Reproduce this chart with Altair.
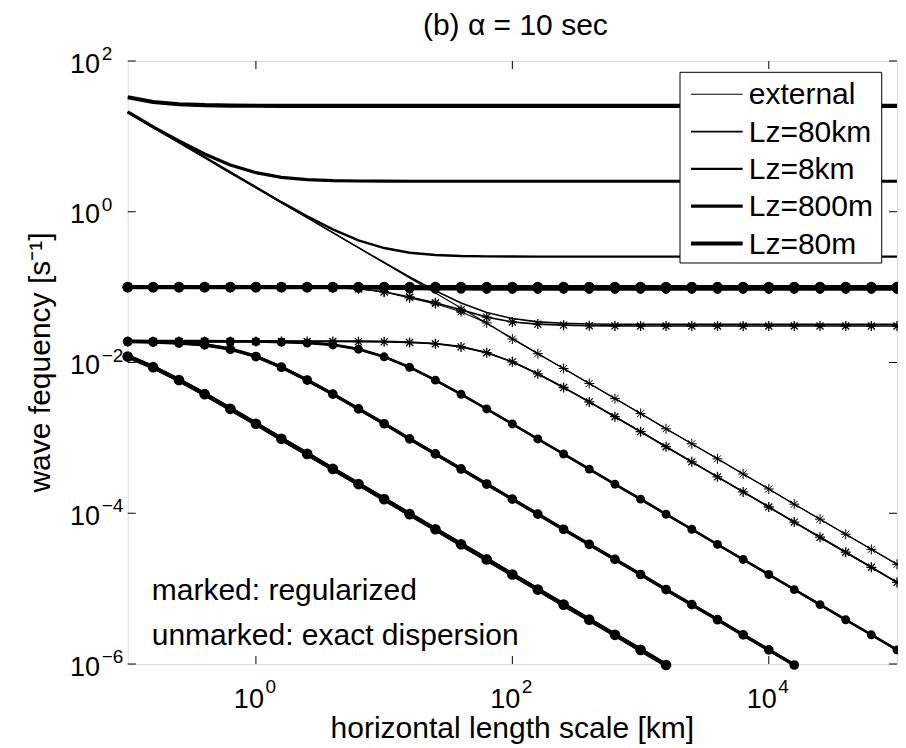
import altair as alt
import pandas as pd

# horizontal length scale [km] (sample points, 5 per decade)
X_KM = [0.1, 0.158, 0.251, 0.398, 0.631, 1.0, 1.58, 2.51, 3.98, 6.31,
        10, 15.8, 25.1, 39.8, 63.1, 100, 158, 251, 398, 631,
        1000, 1580, 2510, 3980, 6310, 10000, 15800, 25100, 39800, 63100, 100000]

# exact dispersion (unmarked)
EXT_EXACT = [21.0, 13.2, 8.35, 5.27, 3.32, 2.10, 1.32, 0.835, 0.527, 0.332,
             0.210, 0.132, 0.0835, 0.0527, 0.0332, 0.0210, 0.0132, 0.00835, 0.00527, 0.00332,
             0.00210, 0.00132, 8.35e-4, 5.27e-4, 3.32e-4, 2.10e-4, 1.32e-4, 8.35e-5, 5.27e-5, 3.32e-5, 2.10e-5]
AC80KM_EXACT = [21.0, 13.2, 8.35, 5.27, 3.32, 2.10, 1.32, 0.836, 0.528, 0.334,
                0.212, 0.136, 0.0894, 0.0617, 0.0461, 0.0383, 0.0346, 0.0331, 0.0324, 0.0322,
                0.0321, 0.032, 0.032, 0.032, 0.032, 0.032, 0.032, 0.032, 0.032, 0.032, 0.032]
AC8KM_EXACT = [21.0, 13.2, 8.35, 5.28, 3.33, 2.11, 1.34, 0.873, 0.585, 0.418,
               0.330, 0.286, 0.267, 0.259, 0.256, 0.255, 0.254, 0.254, 0.254, 0.254,
               0.254, 0.254, 0.254, 0.254, 0.254, 0.254, 0.254, 0.254, 0.254, 0.254, 0.254]
AC800M_EXACT = [21.2, 13.4, 8.73, 5.85, 4.18, 3.30, 2.86, 2.67, 2.59, 2.56,
                2.55, 2.54, 2.54, 2.54, 2.54, 2.54, 2.54, 2.54, 2.54, 2.54,
                2.54, 2.54, 2.54, 2.54, 2.54, 2.54, 2.54, 2.54, 2.54, 2.54, 2.54]
AC80M_EXACT = [33.0, 28.6, 26.7, 25.9, 25.6, 25.5, 25.4, 25.4, 25.4, 25.4,
               25.4, 25.4, 25.4, 25.4, 25.4, 25.4, 25.4, 25.4, 25.4, 25.4,
               25.4, 25.4, 25.4, 25.4, 25.4, 25.4, 25.4, 25.4, 25.4, 25.4, 25.4]
GR80KM_EXACT = [0.0193, 0.0193, 0.0193, 0.0193, 0.0193, 0.0193, 0.0193, 0.0193, 0.0193, 0.0192,
                0.0191, 0.0187, 0.0179, 0.0163, 0.0136, 0.0102, 0.00709, 0.00467, 0.00300, 0.00191,
                0.00121, 7.63e-4, 4.81e-4, 3.04e-4, 1.92e-4, 1.21e-4, 7.63e-5, 4.81e-5, 3.04e-5, 1.92e-5, 1.21e-5]
GR8KM_EXACT = [0.0193, 0.0193, 0.0193, 0.0193, 0.0192, 0.0192, 0.0189, 0.0184, 0.0173, 0.0151,
               0.0120, 0.00867, 0.00584, 0.00379, 0.00242, 0.00153, 9.68e-4, 6.11e-4, 3.85e-4, 2.43e-4,
               1.54e-4, 9.71e-5, 6.13e-5, 3.86e-5, 2.44e-5, 1.54e-5, 9.71e-6, 6.13e-6, 3.86e-6, 2.44e-6, 1.54e-6]
GR800M_EXACT = [0.0192, 0.0189, 0.0184, 0.0173, 0.0152, 0.0121, 0.00869, 0.00586, 0.00380, 0.00243,
                0.00154, 9.71e-4, 6.13e-4, 3.87e-4, 2.44e-4, 1.54e-4, 9.72e-5, 6.13e-5, 3.87e-5, 2.44e-5,
                1.54e-5, 9.72e-6, 6.13e-6, 3.87e-6, 2.44e-6, 1.54e-6, 9.7e-7, None, None, None, None]
GR80M_EXACT = [0.0121, 0.00869, 0.00586, 0.00380, 0.00243, 0.00154, 9.71e-4, 6.13e-4, 3.87e-4, 2.44e-4,
               1.54e-4, 9.72e-5, 6.13e-5, 3.87e-5, 2.44e-5, 1.54e-5, 9.72e-6, 6.13e-6, 3.87e-6, 2.44e-6,
               1.54e-6, 9.7e-7, None, None, None, None, None, None, None, None, None]

# regularized (marked)
EXT_REG = [0.1, 0.1, 0.1, 0.1, 0.1, 0.1, 0.1, 0.0993, 0.0983, 0.0950,
           0.086, 0.072, 0.060, 0.047, 0.0335, 0.0205, 0.0131, 0.00832, 0.00527, 0.00332,
           0.00210, 0.00132, 8.35e-4, 5.27e-4, 3.32e-4, 2.10e-4, 1.32e-4, 8.35e-5, 5.27e-5, 3.32e-5, 2.10e-5]
AC80KM_REG = [0.1, 0.1, 0.1, 0.1, 0.1, 0.1, 0.1, 0.0993, 0.0983, 0.0952,
              0.087, 0.074, 0.062, 0.050, 0.040, 0.0345, 0.0323, 0.0313, 0.0308, 0.0306,
              0.0305, 0.0305, 0.0305, 0.0305, 0.0305, 0.0305, 0.0305, 0.0305, 0.0305, 0.0305, 0.0305]
AC8KM_REG = [0.0999, 0.0999, 0.0999, 0.0999, 0.0999, 0.0999, 0.0999, 0.0993, 0.0986, 0.0973,
             0.0957, 0.0944, 0.0937, 0.0933, 0.0931, 0.0931, 0.0931, 0.0931, 0.0931, 0.0931,
             0.0931, 0.0931, 0.0931, 0.0931, 0.0931, 0.0931, 0.0931, 0.0931, 0.0931, 0.0931, 0.0931]
AC800M_REG = [0.0999] * 31
AC80M_REG = [0.1] * 31
GR80KM_REG = [0.019, 0.019, 0.019, 0.019, 0.019, 0.019, 0.019, 0.019, 0.019, 0.0189,
              0.0188, 0.0184, 0.0177, 0.0161, 0.0135, 0.0102, 0.00707, 0.00466, 0.00300, 0.00191,
              0.00121, 7.63e-4, 4.81e-4, 3.04e-4, 1.92e-4, 1.21e-4, 7.63e-5, 4.81e-5, 3.04e-5, 1.92e-5, 1.21e-5]
GR8KM_REG = [0.019, 0.019, 0.019, 0.019, 0.019, 0.0189, 0.0186, 0.0181, 0.0171, 0.0150,
             0.0119, 0.00864, 0.00583, 0.00379, 0.00242, 0.00153, 9.68e-4, 6.11e-4, 3.85e-4, 2.43e-4,
             1.54e-4, 9.71e-5, 6.13e-5, 3.86e-5, 2.44e-5, 1.54e-5, 9.71e-6, 6.13e-6, 3.86e-6, 2.44e-6, 1.54e-6]
GR800M_REG = [0.0189, 0.0186, 0.0181, 0.0171, 0.0150, 0.0120, 0.00866, 0.00585, 0.00380, 0.00243,
              0.00154, 9.71e-4, 6.13e-4, 3.87e-4, 2.44e-4, 1.54e-4, 9.72e-5, 6.13e-5, 3.87e-5, 2.44e-5,
              1.54e-5, 9.72e-6, 6.13e-6, 3.87e-6, 2.44e-6, 1.54e-6, 9.7e-7, None, None, None, None]
GR80M_REG = [0.0120, 0.00866, 0.00585, 0.00380, 0.00243, 0.00154, 9.71e-4, 6.13e-4, 3.87e-4, 2.44e-4,
             1.54e-4, 9.72e-5, 6.13e-5, 3.87e-5, 2.44e-5, 1.54e-5, 9.72e-6, 6.13e-6, 3.87e-6, 2.44e-6,
             1.54e-6, 9.7e-7, None, None, None, None, None, None, None, None, None]

GROUPS = ["external", "Lz=80km", "Lz=8km", "Lz=800m", "Lz=80m"]
WIDTHS = [1.1, 1.6, 2.4, 3.2, 4.2]

SERIES = [
    ("ext exact", "external", "none", EXT_EXACT),
    ("ac80km exact", "Lz=80km", "none", AC80KM_EXACT),
    ("ac8km exact", "Lz=8km", "none", AC8KM_EXACT),
    ("ac800m exact", "Lz=800m", "none", AC800M_EXACT),
    ("ac80m exact", "Lz=80m", "none", AC80M_EXACT),
    ("gr80km exact", "Lz=80km", "none", GR80KM_EXACT),
    ("gr8km exact", "Lz=8km", "none", GR8KM_EXACT),
    ("gr800m exact", "Lz=800m", "none", GR800M_EXACT),
    ("gr80m exact", "Lz=80m", "none", GR80M_EXACT),
    ("ext reg", "external", "star", EXT_REG),
    ("ac80km reg", "Lz=80km", "star", AC80KM_REG),
    ("ac8km reg", "Lz=8km", "dot", AC8KM_REG),
    ("ac800m reg", "Lz=800m", "dot", AC800M_REG),
    ("ac80m reg", "Lz=80m", "dot", AC80M_REG),
    ("gr80km reg", "Lz=80km", "star", GR80KM_REG),
    ("gr8km reg", "Lz=8km", "dot", GR8KM_REG),
    ("gr800m reg", "Lz=800m", "dot", GR800M_REG),
    ("gr80m reg", "Lz=80m", "dot", GR80M_REG),
]

X_TICKS = [1, 100, 10000]
X_EXP = ["0", "2", "4"]
Y_TICKS = [100, 1, 0.01, 1e-4, 1e-6]
Y_EXP = ["2", "0", "\u22122", "\u22124", "\u22126"]

NOTE_TEXT = ["marked: regularized", "unmarked: exact dispersion"]
NOTE_X = [0.154, 0.154]
NOTE_Y = [7.1e-6, 1.8e-6]

TITLE = "(b) \u03b1 = 10 sec"
X_TITLE = "horizontal length scale [km]"
Y_TITLE = "wave fequency [s\u207b\u00b9]"

FONT = "Liberation Sans"
W, H = 769.3, 603

rows = []
for name, grp, mk, vals in SERIES:
    gw = WIDTHS[GROUPS.index(grp)]
    for i, (x, y) in enumerate(zip(X_KM, vals)):
        if y is None:
            continue
        rows.append({"x": x, "y": y, "series": name, "group": grp, "marker": mk,
                     "order": i, "lw": gw, "mw": max(1.0, gw * 0.8),
                     "ds": (6.5 + gw) ** 2})
df = pd.DataFrame(rows)

xscale = alt.Scale(type="log", domain=[0.1, 1e5], nice=False)
yscale = alt.Scale(type="log", domain=[1e-6, 1e2], nice=False)
XE = alt.X("x:Q", scale=xscale, axis=None)
YE = alt.Y("y:Q", scale=yscale, axis=None)

lines = alt.Chart(df).mark_line(color="black").encode(
    x=XE, y=YE, detail="series:N", order="order:Q",
    strokeWidth=alt.StrokeWidth("lw:Q", scale=None),
)

dots = alt.Chart(df).transform_filter(alt.datum.marker == "dot").mark_point(
    shape="circle", filled=True, color="black", opacity=1
).encode(x=XE, y=YE, size=alt.Size("ds:Q", scale=None))

STAR = "M-1,0L1,0M0,-1L0,1M-0.7,-0.7L0.7,0.7M-0.7,0.7L0.7,-0.7"
stars = alt.Chart(df).transform_filter(alt.datum.marker == "star").mark_point(
    shape=STAR, filled=False, color="black", size=100, opacity=1
).encode(x=XE, y=YE, strokeWidth=alt.StrokeWidth("mw:Q", scale=None))

xt = pd.DataFrame({"tick": X_TICKS, "exp": X_EXP})
yt = pd.DataFrame({"tick": Y_TICKS, "exp": Y_EXP})
XT = alt.X("tick:Q", scale=xscale, axis=None)
YT = alt.Y("tick:Q", scale=yscale, axis=None)

xtick_b = alt.Chart(xt).mark_rule(color="black", strokeWidth=1).encode(
    x=XT, y=alt.value(H), y2=alt.value(H - 8))
xtick_t = alt.Chart(xt).mark_rule(color="black", strokeWidth=1).encode(
    x=XT, y=alt.value(0), y2=alt.value(8))
ytick_l = alt.Chart(yt).mark_rule(color="black", strokeWidth=1).encode(
    y=YT, x=alt.value(0), x2=alt.value(8))
ytick_r = alt.Chart(yt).mark_rule(color="black", strokeWidth=1).encode(
    y=YT, x=alt.value(W), x2=alt.value(W - 8))

xlab = alt.Chart(xt).mark_text(font=FONT, fontSize=27, align="right", baseline="alphabetic",
                               dx=8, color="black").encode(
    x=XT, y=alt.value(H + 44), text=alt.value("10"))
xexp = alt.Chart(xt).mark_text(font=FONT, fontSize=19, align="left", baseline="alphabetic",
                               dx=9.5, color="black").encode(
    x=XT, y=alt.value(H + 29), text="exp:N")
ylab = alt.Chart(yt).mark_text(font=FONT, fontSize=27, align="right", baseline="alphabetic",
                               dy=11.5, color="black").encode(
    y=YT, x=alt.value(-27.7), text=alt.value("10"))
yexp = alt.Chart(yt).mark_text(font=FONT, fontSize=19, align="left", baseline="alphabetic",
                               dy=-1, color="black").encode(
    y=YT, x=alt.value(-26), text="exp:N")

notes = alt.Chart(pd.DataFrame({"x": NOTE_X, "y": NOTE_Y, "t": NOTE_TEXT})).mark_text(
    font=FONT, fontSize=30, align="left", baseline="alphabetic", color="black"
).encode(x=XE, y=YE, text="t:N")

# titles
one = pd.DataFrame({"k": [0]})
title_t = alt.Chart(one).mark_text(font=FONT, fontSize=30, align="center",
                                   baseline="alphabetic", color="black").encode(
    x=alt.value(W / 2 + 3), y=alt.value(-26), text=alt.value(TITLE))
xtitle_t = alt.Chart(one).mark_text(font=FONT, fontSize=30, align="center",
                                    baseline="alphabetic", color="black").encode(
    x=alt.value(W / 2), y=alt.value(H + 74), text=alt.value(X_TITLE))
ytitle_t = alt.Chart(one).mark_text(font=FONT, fontSize=30, align="center",
                                    baseline="alphabetic", angle=270, color="black").encode(
    x=alt.value(-77.7), y=alt.value(H / 2), text=alt.value(Y_TITLE))

# legend (drawn box with line samples)
leg = pd.DataFrame({"label": GROUPS, "w": WIDTHS, "idx": list(range(len(GROUPS)))})
leg_box = alt.Chart(one).mark_rect(fill="white", stroke="black", strokeWidth=1).encode(
    x=alt.value(552.3), x2=alt.value(754), y=alt.value(11.3), y2=alt.value(202))
leg_base = alt.Chart(leg).transform_calculate(ly="33.3 + 37.3 * datum.idx")
leg_lines = leg_base.mark_rule(color="black").encode(
    x=alt.value(563.3), x2=alt.value(615), y=alt.Y("ly:Q", scale=None),
    strokeWidth=alt.StrokeWidth("w:Q", scale=None))
leg_text = leg_base.mark_text(font=FONT, fontSize=30, align="left", baseline="alphabetic",
                              dy=10, color="black").encode(
    x=alt.value(621), y=alt.Y("ly:Q", scale=None), text="label:N")

chart = alt.layer(
    lines, dots, stars, xtick_b, xtick_t, ytick_l, ytick_r, xlab, xexp, ylab, yexp, notes,
    leg_box, leg_lines, leg_text, title_t, xtitle_t, ytitle_t
).properties(
    width=W, height=H,
    padding={"left": 119.7, "top": 53, "right": 1, "bottom": 84},
    autosize=alt.AutoSizeParams(type="none"),
).configure_view(stroke="black", strokeWidth=1).configure(font=FONT)

chart.save("out.html", embed_options={"renderer": "svg", "actions": False})
